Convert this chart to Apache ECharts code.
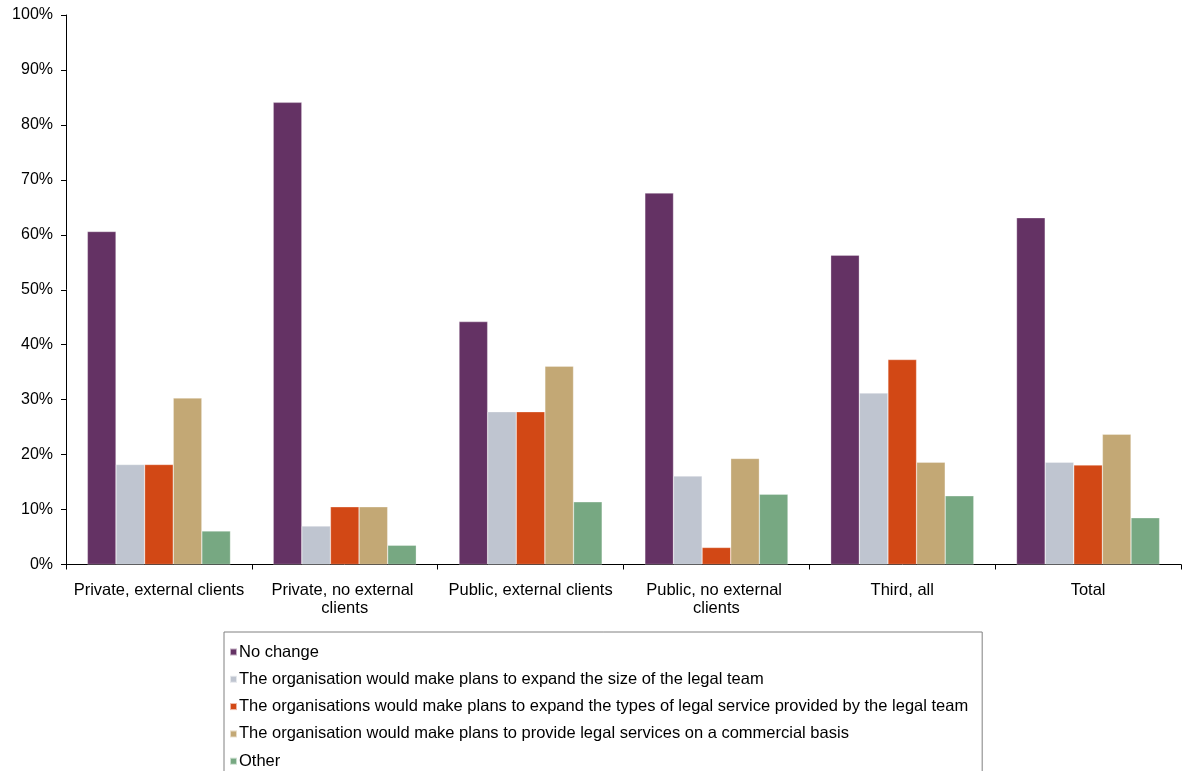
<!DOCTYPE html>
<html>
<head>
<meta charset="utf-8">
<script src="https://cdn.jsdelivr.net/npm/echarts@6/dist/echarts.min.js"></script>
<style>
html,body{margin:0;padding:0;background:#fff;}
#chart{width:1186px;height:771px;}
</style>
</head>
<body>
<div id="chart"></div>
<script>
const categories = ["Private, external clients", "Private, no external clients", "Public, external clients", "Public, no external clients", "Third, all", "Total"];
const seriesNames = [
  "No change",
  "The organisation would make plans to expand the size of the legal team",
  "The organisations would make plans to expand the types of legal service provided by the legal team",
  "The organisation would make plans to provide legal services on a commercial basis",
  "Other"
];
const noChange   = [60.6, 84.1, 44.2, 67.6, 56.3, 63.1];
const expandSize = [18.2, 7.0, 27.8, 16.1, 31.2, 18.6];
const expandType = [18.2, 10.5, 27.8, 3.1, 37.3, 18.1];
const commercial = [30.3, 10.5, 36.1, 19.3, 18.6, 23.7];
const other      = [6.1, 3.5, 11.4, 12.8, 12.5, 8.5];
const yTicks = [0, 10, 20, 30, 40, 50, 60, 70, 80, 90, 100];

const colors = ["#643264", "#BFC5D0", "#D24815", "#C3A875", "#77A882"];
const values = [noChange, expandSize, expandType, commercial, other];
const FONT = "Liberation Sans, Arial, sans-serif";

const chart = echarts.init(document.getElementById('chart'), null, {renderer: 'canvas'});
chart.setOption({
  animation: false,
  backgroundColor: '#fff',
  color: colors,
  grid: {left: 66, right: 5, top: 15, bottom: 206.5, containLabel: false},
  legend: {
    orient: 'vertical',
    left: 224,
    top: 632,
    height: 300,
    itemWidth: 7,
    itemHeight: 7,
    itemGap: 10.3,
    icon: 'rect',
    padding: [11.5, 14, 30, 5],
    borderColor: '#808080',
    borderWidth: 1,
    backgroundColor: '#fff',
    textStyle: {fontFamily: FONT, fontSize: 16.5, color: '#000', lineHeight: 17, padding: [0, 0, 0, -3]},
    data: seriesNames
  },
  xAxis: {
    type: 'category',
    data: categories,
    axisLine: {lineStyle: {color: '#000', width: 1}},
    axisTick: {show: true, length: 5, lineStyle: {color: '#000'}},
    axisLabel: {
      fontFamily: FONT, fontSize: 16.5, color: '#000', margin: 17, lineHeight: 18,
      width: 182, overflow: 'break', interval: 0
    },
    splitLine: {show: false}
  },
  yAxis: {
    type: 'value',
    min: yTicks[0],
    max: yTicks[yTicks.length - 1],
    interval: 10,
    axisLine: {show: true, lineStyle: {color: '#000', width: 1}},
    axisTick: {show: true, length: 5, lineStyle: {color: '#000'}},
    axisLabel: {fontFamily: FONT, fontSize: 16, color: '#000', margin: 13, formatter: '{value}%'},
    splitLine: {show: false}
  },
  series: seriesNames.map((name, i) => ({
    name: name,
    type: 'bar',
    data: values[i],
    barGap: '0%',
    barCategoryGap: '23%',
    itemStyle: {color: colors[i], borderColor: 'rgba(255,255,255,0.6)', borderWidth: 0.5}
  }))
});
</script>
</body>
</html>
